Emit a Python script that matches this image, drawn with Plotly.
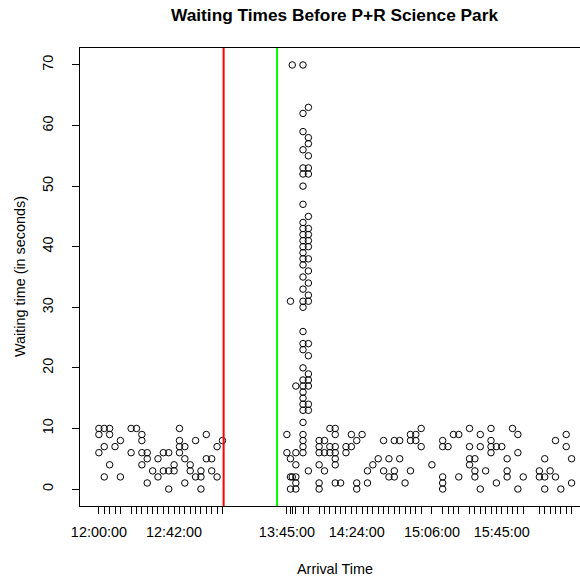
import pandas as pd
import plotly.graph_objects as go

# Arrival slots (HH:MM) and the waiting times (s) recorded at each slot
slot_times = [
    "12:00", "12:03", "12:06", "12:09", "12:12", "12:18", "12:21", "12:24",
    "12:27", "12:30", "12:33", "12:36", "12:39", "12:42", "12:45", "12:48",
    "12:51", "12:54", "12:57", "13:00", "13:03", "13:06", "13:09",
    "13:45", "13:47", "13:48", "13:50", "13:54", "13:57",
    "14:03", "14:06", "14:09", "14:12", "14:15", "14:18", "14:21", "14:24",
    "14:27", "14:30", "14:33", "14:36", "14:39", "14:42", "14:45", "14:48",
    "14:51", "14:54", "14:57", "15:00", "15:06", "15:12", "15:15", "15:18",
    "15:21", "15:27", "15:30", "15:33", "15:36", "15:39", "15:42", "15:45",
    "15:48", "15:51", "15:54", "15:57", "16:06", "16:09", "16:12", "16:15",
    "16:18", "16:21", "16:24",
]
waits_by_slot = [
    [10, 9, 6], [10, 7, 2], [10, 9, 4], [7], [8, 2], [10, 6], [10], [9, 8, 6, 4],
    [6, 5, 1], [3], [5, 2], [6, 3], [6, 3, 0], [4, 3], [10, 8, 7, 6], [7, 5, 1],
    [4, 3], [8, 2], [3, 2, 0], [9, 5], [5, 3], [7, 2], [8],
    [9, 6], [31, 5, 2, 0], [70, 2], [17, 6, 4, 2, 1, 0],
    [70, 62, 59, 56, 53, 52, 50, 47, 44, 43, 42, 41, 40, 39, 38, 37, 35, 33,
     31, 30, 26, 24, 23, 20, 18, 17, 16, 15, 14, 13, 11, 9, 8, 7, 6],
    [63, 58, 57, 55, 53, 52, 45, 43, 42, 41, 40, 38, 36, 34, 32, 31, 24, 22,
     19, 18, 17, 14, 13, 3],
    [8, 7, 6, 4, 1, 0], [8, 6, 3], [10, 7, 6], [10, 9, 7, 6, 5, 4, 1], [1],
    [7, 6], [9, 7], [8, 1, 0],
    [9], [3, 1], [4], [5], [8, 3], [5, 2], [8, 3, 2], [8, 5],
    [1], [9, 8, 3], [9, 8], [10, 7], [4], [8, 7, 2, 1, 0], [7], [9],
    [9, 2], [10, 7, 5, 4], [5, 3, 2], [9, 7, 0], [3], [10, 8, 7, 6], [7, 1], [7],
    [5, 3, 2], [10], [9, 6, 0], [2], [3, 2], [5, 2, 0], [3], [8, 2],
    [0], [9, 7], [5, 1],
]
labelled_ticks = ["12:00:00", "12:42:00", "13:45:00", "14:24:00", "15:06:00", "15:45:00"]
y_ticks = [0, 10, 20, 30, 40, 50, 60, 70]
red_line_time = "13:09:40"
green_line_time = "13:39:30"

DAY = "2019-06-03 "
FONT = "Liberation Sans, Arial, sans-serif"

arrivals, waits = [], []
for t, ws in zip(slot_times, waits_by_slot):
    for w in ws:
        arrivals.append(pd.Timestamp(DAY + t))
        waits.append(w)

tick_vals = [pd.Timestamp(DAY + t) for t in slot_times]
tick_text = [tv.strftime("%H:%M:%S") if tv.strftime("%H:%M:%S") in labelled_ticks else ""
             for tv in tick_vals]

x_first, x_last = min(arrivals), max(arrivals)
span = x_last - x_first
x_lo = x_first - span * 0.04
x_hi = x_first + pd.Timedelta(minutes=268.7)

fig = go.Figure()
fig.add_trace(go.Scatter(
    x=arrivals, y=waits, mode="markers",
    marker=dict(symbol="circle-open", size=6.5, color="black", line=dict(width=1, color="black")),
    showlegend=False, hoverinfo="x+y",
))

for t, col in [(red_line_time, "#FF0000"), (green_line_time, "#00FF00")]:
    ts = pd.Timestamp(DAY + t)
    fig.add_shape(type="line", xref="x", yref="paper", x0=ts, x1=ts, y0=0, y1=1,
                  line=dict(color=col, width=2))

fig.update_layout(
    width=580, height=580,
    margin=dict(l=80, r=0, t=48, b=74),
    paper_bgcolor="white", plot_bgcolor="white",
    font=dict(family=FONT, size=14.4, color="black"),
    xaxis=dict(
        type="date", range=[x_lo, x_hi],
        tickmode="array", tickvals=tick_vals, ticktext=tick_text,
        ticks="outside", ticklen=7, tickwidth=1, tickcolor="black",
        showgrid=False, zeroline=False,
        showline=True, linecolor="black", linewidth=1, mirror=True,
        tickfont=dict(size=14.4, family=FONT, color="black"),
        ticklabelstandoff=6,
    ),
    yaxis=dict(
        range=[-2.8, 72.8], tickmode="array", tickvals=y_ticks,
        ticktext=[str(v) for v in y_ticks],
        ticks="outside", ticklen=7, tickwidth=1, tickcolor="black",
        tickangle=-90,
        showgrid=False, zeroline=False,
        showline=True, linecolor="black", linewidth=1,
        tickfont=dict(size=14.4, family=FONT, color="black"),
        ticklabelstandoff=13,
    ),
    annotations=[
        dict(text="<b>Waiting Times Before P+R Science Park</b>", xref="paper", yref="paper",
             x=0.5095, y=1 + 33 / 458, xanchor="center", yanchor="middle", showarrow=False,
             font=dict(size=17.3, family=FONT, color="black")),
        dict(text="Arrival Time", xref="paper", yref="paper",
             x=0.5095, y=-63 / 458, xanchor="center", yanchor="middle", showarrow=False,
             font=dict(size=14.4, family=FONT, color="black")),
        dict(text="Waiting time (in seconds)", xref="paper", yref="paper",
             x=-60 / 500, y=0.5, xanchor="center", yanchor="middle", showarrow=False,
             textangle=-90, font=dict(size=14.4, family=FONT, color="black")),
    ],
)

fig.write_html("out.html")
